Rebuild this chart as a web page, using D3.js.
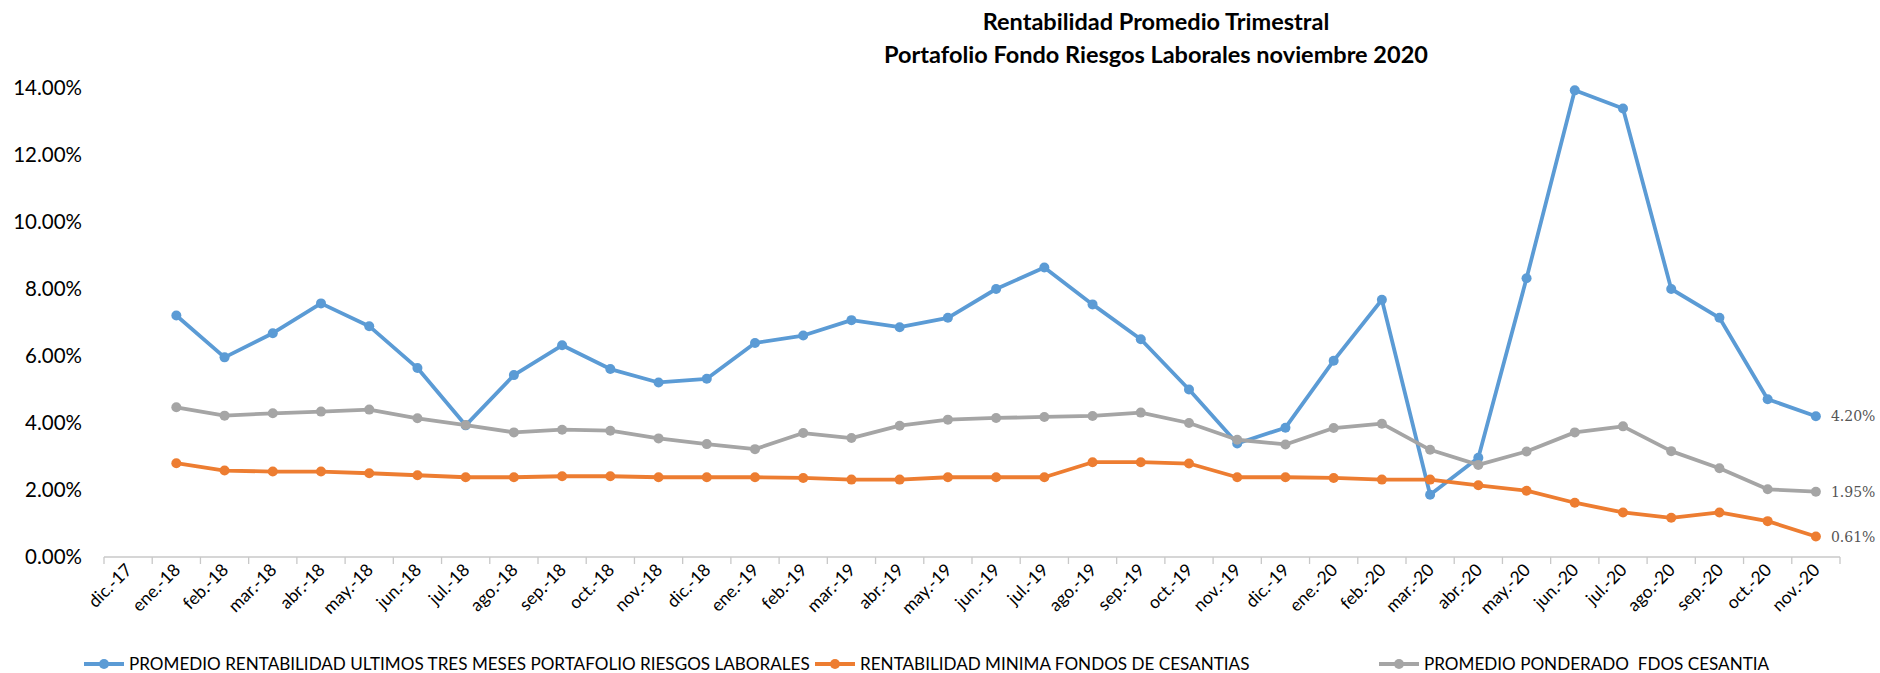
<!DOCTYPE html>
<html><head><meta charset="utf-8">
<script src="https://cdn.jsdelivr.net/npm/d3@7/dist/d3.min.js"></script>
<style>
html,body{margin:0;padding:0;background:#fff;}
svg{display:block;font-family:Lato,"Noto Sans",sans-serif;}
</style></head>
<body><svg id="c" width="1880" height="673"></svg>
<script>
const categories = ["dic.-17","ene.-18","feb.-18","mar.-18","abr.-18","may.-18","jun.-18","jul.-18","ago.-18","sep.-18","oct.-18","nov.-18","dic.-18","ene.-19","feb.-19","mar.-19","abr.-19","may.-19","jun.-19","jul.-19","ago.-19","sep.-19","oct.-19","nov.-19","dic.-19","ene.-20","feb.-20","mar.-20","abr.-20","may.-20","jun.-20","jul.-20","ago.-20","sep.-20","oct.-20","nov.-20"];
// values in percent; first category (dic.-17) has no data
const promedioRiesgos = [null,7.21,5.96,6.68,7.57,6.89,5.64,3.93,5.43,6.32,5.61,5.21,5.32,6.39,6.61,7.07,6.86,7.14,8.00,8.64,7.54,6.50,5.00,3.39,3.86,5.86,7.68,1.86,2.96,8.32,13.93,13.39,8.00,7.14,4.71,4.20];
const minimaCesantias = [null,2.80,2.58,2.55,2.55,2.50,2.44,2.38,2.38,2.41,2.41,2.38,2.38,2.38,2.36,2.31,2.31,2.38,2.38,2.38,2.83,2.83,2.79,2.38,2.38,2.36,2.31,2.31,2.14,1.98,1.62,1.33,1.17,1.33,1.07,0.61];
const ponderadoCesantia = [null,4.47,4.22,4.29,4.34,4.40,4.14,3.94,3.72,3.80,3.77,3.54,3.37,3.22,3.70,3.55,3.92,4.10,4.15,4.18,4.21,4.31,4.00,3.50,3.36,3.85,3.98,3.20,2.75,3.15,3.72,3.90,3.16,2.65,2.02,1.95];
const seriesNames = ["PROMEDIO RENTABILIDAD ULTIMOS TRES MESES PORTAFOLIO RIESGOS LABORALES","RENTABILIDAD MINIMA FONDOS DE CESANTIAS","PROMEDIO PONDERADO  FDOS CESANTIA"];
const seriesColors = ["#5B9BD5","#ED7D31","#A5A5A5"];
const yTicks = [0,2,4,6,8,10,12,14];
const titleLines = ["Rentabilidad Promedio Trimestral","Portafolio Fondo Riesgos Laborales noviembre 2020"];

const seriesData = [promedioRiesgos, minimaCesantias, ponderadoCesantia];
const svg = d3.select("#c");
const x0 = 104, x1 = 1840, yBottom = 557, yTop = 88;

const x = d3.scaleBand().domain(categories).range([x0, x1]).paddingInner(0).paddingOuter(0);
const y = d3.scaleLinear().domain([0, 14]).range([yBottom, yTop]);
const cx = c => x(c) + x.bandwidth()/2;

// title
svg.append("g").selectAll("text").data(titleLines).join("text")
  .attr("x", 1156).attr("y", (d,i) => 30 + i*33)
  .attr("text-anchor","middle").attr("font-weight","bold").attr("font-size",23.5)
  .attr("fill","#000").text(d => d);

// y axis labels
svg.append("g").selectAll("text").data(yTicks).join("text")
  .attr("x", 82).attr("y", d => y(d) + 7)
  .attr("text-anchor","end").attr("font-size",20.5).attr("fill","#000")
  .text(d => d.toFixed(2) + "%");

// x axis line & ticks
const xAxisG = svg.append("g").attr("transform",`translate(0,${yBottom})`);
xAxisG.append("line").attr("x1",x0).attr("x2",x1).attr("y1",0).attr("y2",0)
  .attr("stroke","#c8c8c8").attr("stroke-width",1.3);
const bounds = categories.map(c => x(c)).concat([x1]);
xAxisG.selectAll("line.t").data(bounds).join("line").attr("class","t")
  .attr("x1",d=>d).attr("x2",d=>d).attr("y1",0).attr("y2",7)
  .attr("stroke","#c8c8c8").attr("stroke-width",1.3);
xAxisG.selectAll("text").data(categories).join("text")
  .attr("transform", d => `translate(${cx(d)+5},${14}) rotate(-45)`)
  .attr("text-anchor","end").attr("font-size",17.5).attr("fill","#000")
  .text(d => d);

// lines
const line = d3.line().defined(d => d.v != null).x(d => cx(d.c)).y(d => y(d.v));
seriesData.forEach((arr, i) => {
  const pts = arr.map((v, j) => ({c: categories[j], v}));
  svg.append("path").datum(pts).attr("d", line)
    .attr("fill","none").attr("stroke",seriesColors[i]).attr("stroke-width",3.8)
    .attr("stroke-linejoin","round");
  svg.append("g").selectAll("circle").data(pts.filter(p => p.v != null)).join("circle")
    .attr("cx", d => cx(d.c)).attr("cy", d => y(d.v)).attr("r",5)
    .attr("fill",seriesColors[i]);
});

// end labels
const lastIdx = categories.length - 1;
seriesData.forEach((arr, i) => {
  svg.append("text").attr("x", cx(categories[lastIdx]) + 15).attr("y", y(arr[lastIdx]) + 5)
    .attr("font-family","'DejaVu Serif','Liberation Serif',serif").attr("font-size",14)
    .attr("fill","#555").text(arr[lastIdx].toFixed(2) + "%");
});

// legend
const legendStarts = [84, 815, 1379];
const lg = svg.append("g").attr("transform","translate(0,664)");
seriesNames.forEach((n, i) => {
  const g = lg.append("g").attr("transform",`translate(${legendStarts[i]},0)`);
  g.append("line").attr("x1",0).attr("x2",40).attr("y1",0).attr("y2",0)
    .attr("stroke",seriesColors[i]).attr("stroke-width",3.8);
  g.append("circle").attr("cx",20).attr("cy",0).attr("r",5).attr("fill",seriesColors[i]);
  g.append("text").attr("x",45).attr("y",6).attr("font-size",17.1).attr("fill","#000")
    .style("white-space","pre").text(n);
});
</script></body></html>
